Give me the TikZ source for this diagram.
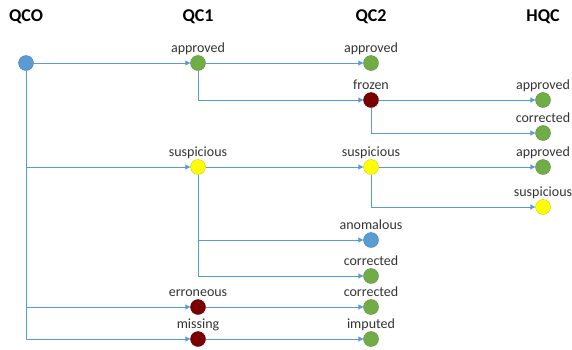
\documentclass[tikz,border=0pt]{standalone}
\usepackage{fontspec}
\setmainfont{Carlito}
\usetikzlibrary{arrows.meta}

\definecolor{lineblue}{HTML}{5B9BD5}
\definecolor{flagblue}{HTML}{5B9BD5}
\definecolor{flaggreen}{HTML}{70AD47}
\definecolor{flagred}{HTML}{7B0000}
\definecolor{flagyellow}{HTML}{FFFF00}

\begin{document}
\begin{tikzpicture}[x=1pt,y=-1pt,
  qcflag/.style={circle,fill=#1,draw=#1!80!black,line width=0.4pt,
    minimum size=15pt,inner sep=0pt},
  conn/.style={draw=lineblue,line width=0.9pt,-{Triangle[length=5pt,width=5pt]}},
  head/.style={font=\fontsize{18}{21}\selectfont\bfseries,anchor=base},
  every label/.style={font=\fontsize{14}{16}\selectfont,text=black!80,
    inner sep=0pt,text depth=3pt}]
\useasboundingbox (0,0) rectangle (572,349);

% column heads
\node[head] (hqco) at (26,21.5) {QCO};
\node[head] (hqc1) at (198,21.5) {QC1};
\node[head] (hqc2) at (371,21.5) {QC2};
\node[head] (hhqc) at (543,21.5) {HQC};

% flags
\node[qcflag=flagblue] (qco) at (26,63) {};
\node[qcflag=flaggreen,label=above:approved] (qc1app) at (198,63) {};
\node[qcflag=flagyellow,label=above:suspicious] (qc1sus) at (198,167) {};
\node[qcflag=flagred,label=above:erroneous] (qc1err) at (198,307) {};
\node[qcflag=flagred,label=above:missing] (qc1mis) at (198,339) {};
\node[qcflag=flaggreen,label=above:approved] (qc2app) at (371,63) {};
\node[qcflag=flagred,label=above:frozen] (qc2frz) at (371,100) {};
\node[qcflag=flagyellow,label=above:suspicious] (qc2sus) at (371,167) {};
\node[qcflag=flagblue,label=above:anomalous] (qc2ano) at (371,240) {};
\node[qcflag=flaggreen,label=above:corrected] (qc2cor) at (371,276) {};
\node[qcflag=flaggreen,label=above:corrected] (qc2corb) at (371,307) {};
\node[qcflag=flaggreen,label=above:imputed] (qc2imp) at (371,339) {};
\node[qcflag=flaggreen,label=above:approved] (hqcapp) at (543,100) {};
\node[qcflag=flaggreen,label=above:corrected] (hqccor) at (543,133) {};
\node[qcflag=flaggreen,label=above:approved] (hqcappb) at (543,167) {};
\node[qcflag=flagyellow,label=above:suspicious] (hqcsus) at (543,207) {};

% QCO -> QC1
\draw[conn] (qco) -- (qc1app);
\draw[conn] (qco) |- (qc1sus);
\draw[conn] (qco) |- (qc1err);
\draw[conn] (qco) |- (qc1mis);

% QC1 -> QC2
\draw[conn] (qc1app) -- (qc2app);
\draw[conn] (qc1app) |- (qc2frz);
\draw[conn] (qc1sus) -- (qc2sus);
\draw[conn] (qc1sus) |- (qc2ano);
\draw[conn] (qc1sus) |- (qc2cor);
\draw[conn] (qc1err) -- (qc2corb);
\draw[conn] (qc1mis) -- (qc2imp);

% QC2 -> HQC
\draw[conn] (qc2frz) -- (hqcapp);
\draw[conn] (qc2frz) |- (hqccor);
\draw[conn] (qc2sus) -- (hqcappb);
\draw[conn] (qc2sus) |- (hqcsus);
\end{tikzpicture}
\end{document}
